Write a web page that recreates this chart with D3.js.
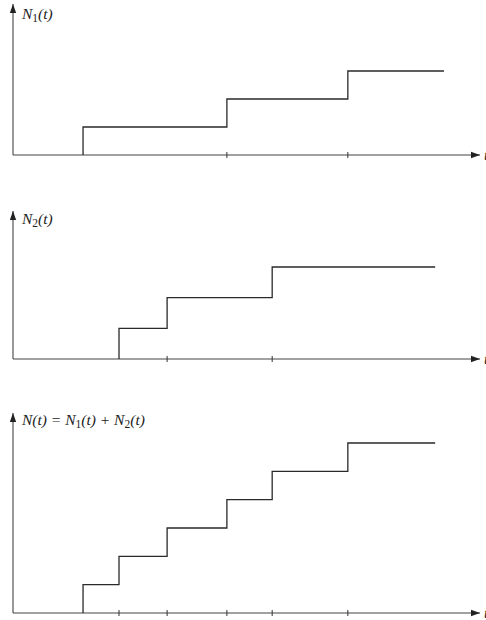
<!DOCTYPE html>
<html>
<head>
<meta charset="utf-8">
<script src="https://cdn.jsdelivr.net/npm/d3@7"></script>
<style>
  html, body { margin: 0; padding: 0; background: #fff; }
  svg { display: block; }
  .lbl { font-family: "Liberation Serif", "DejaVu Serif", serif; font-style: italic; font-size: 15.5px; fill: #222; }
</style>
</head>
<body>
<script>
// Arrival times of process 1 and process 2 (time units), and end of observation
const arrivals1 = [1.50, 4.58, 7.17];
const end1 = 9.23;
const arrivals2 = [2.27, 3.30, 5.55];
const end2 = 9.04;
const end3 = 9.04;
// Labels
const labels = [
  [{t: "N"}, {t: "1", sub: true}, {t: "(t)"}],
  [{t: "N"}, {t: "2", sub: true}, {t: "(t)"}],
  [{t: "N(t) = N"}, {t: "1", sub: true}, {t: "(t) + N"}, {t: "2", sub: true}, {t: "(t)"}]
];
const axisLabel = "t";

const W = 486, H = 620;
const svg = d3.select("body").append("svg").attr("width", W).attr("height", H);

const defs = svg.append("defs");
defs.append("marker").attr("id", "ah").attr("viewBox", "0 0 10 10")
  .attr("refX", 10).attr("refY", 5).attr("markerWidth", 9).attr("markerHeight", 9)
  .attr("markerUnits", "userSpaceOnUse").attr("orient", "auto")
  .append("path").attr("d", "M0,1.5 L10,5 L0,8.5 Z").attr("fill", "#222");

const x = d3.scaleLinear().domain([0, 10]).range([13, 480]);

const merged = arrivals1.concat(arrivals2).sort((a, b) => a - b);

const panels = [
  {arr: arrivals1, end: end1, y0: 155, yTop: 4, maxN: 3, yMax: 71, lblY: 19, label: labels[0]},
  {arr: arrivals2, end: end2, y0: 359, yTop: 211, maxN: 3, yMax: 267, lblY: 224, label: labels[1]},
  {arr: merged, end: end3, y0: 613, yTop: 413, maxN: 6, yMax: 443, lblY: 425, label: labels[2]}
];

panels.forEach(p => {
  const g = svg.append("g");
  const y = d3.scaleLinear().domain([0, p.maxN]).range([p.y0, p.yMax]);

  // y axis with arrow
  g.append("line").attr("x1", x(0)).attr("x2", x(0))
    .attr("y1", y(0)).attr("y2", p.yTop)
    .attr("stroke", "#444").attr("stroke-width", 1.1).attr("marker-end", "url(#ah)");
  // x axis with arrow
  g.append("line").attr("x1", x(0)).attr("x2", x(10))
    .attr("y1", y(0)).attr("y2", y(0))
    .attr("stroke", "#444").attr("stroke-width", 1.1).attr("marker-end", "url(#ah)");

  // ticks at arrivals except the first
  g.selectAll("line.tick").data(p.arr.slice(1)).join("line").attr("class", "tick")
    .attr("x1", d => x(d)).attr("x2", d => x(d))
    .attr("y1", y(0) - 3).attr("y2", y(0) + 3)
    .attr("stroke", "#333").attr("stroke-width", 1);

  // step counting function
  const pts = [[p.arr[0], 0]];
  p.arr.forEach((t, i) => pts.push([t, i + 1]));
  pts.push([p.end, p.arr.length]);
  const line = d3.line().x(d => x(d[0])).y(d => y(d[1])).curve(d3.curveStepAfter);
  g.append("path").attr("d", line(pts)).attr("fill", "none")
    .attr("stroke", "#2a2a2a").attr("stroke-width", 1.3);

  // label
  const txt = g.append("text").attr("class", "lbl").attr("x", 22).attr("y", p.lblY);
  p.label.forEach((part, i) => {
    const ts = txt.append("tspan").text(part.t);
    const prev = p.label[i - 1];
    if (part.sub) ts.attr("font-style", "normal").attr("font-size", "11.5px").attr("dy", 3);
    else if (prev && prev.sub) ts.attr("dy", -3);
  });

  // axis label t (clipped at the edge)
  g.append("text").attr("class", "lbl").attr("x", 484).attr("y", y(0) + 5).text(axisLabel);
});
</script>
</body>
</html>
